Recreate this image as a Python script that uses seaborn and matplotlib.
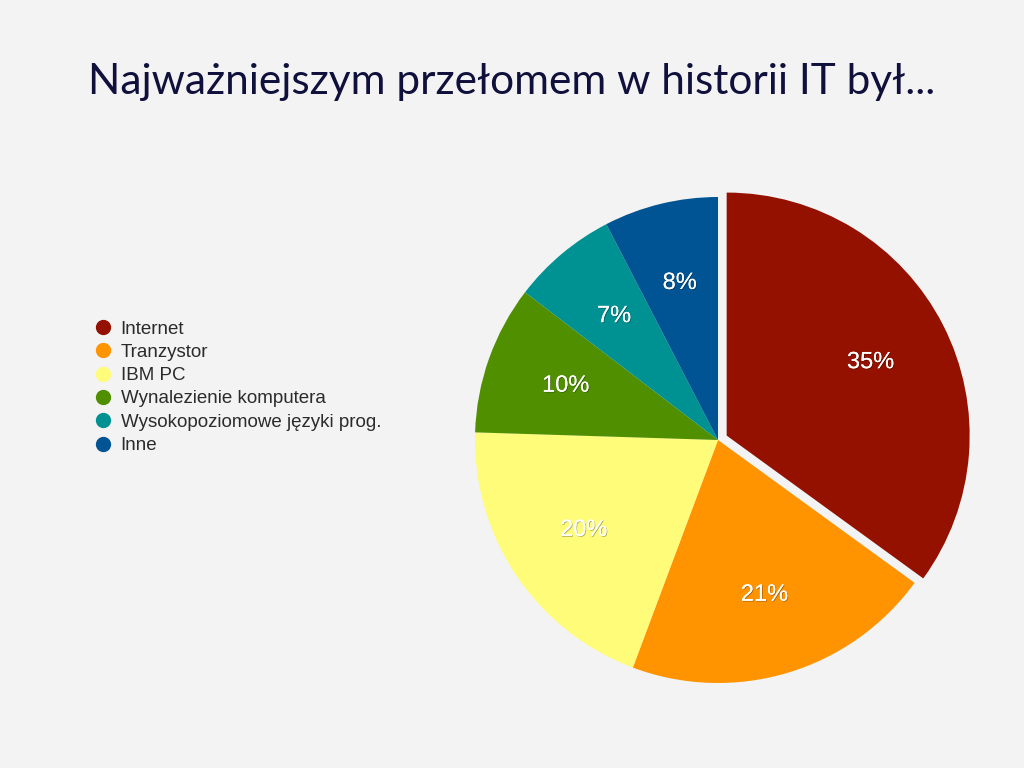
import matplotlib
matplotlib.use("Agg")
import matplotlib.pyplot as plt
import matplotlib.patheffects as pe
from matplotlib.lines import Line2D
import numpy as np
import seaborn as sns

categories = ["Internet", "Tranzystor", "IBM PC", "Wynalezienie komputera",
              "Wysokopoziomowe języki prog.", "Inne"]
values = [35.0, 20.7, 19.8, 9.9, 7.0, 7.6]
colors = ["#941100", "#ff9300", "#fffc79", "#4f8f00", "#009193", "#005493"]
title = "Najważniejszym przełomem w historii IT był..."

sns.set_theme(style="white")
bg = "#f3f3f3"
plt.rcParams["font.family"] = ["Liberation Sans", "DejaVu Sans"]

fig = plt.figure(figsize=(10.24, 7.68), dpi=100, facecolor=bg)
W, H = 1024, 768
cx, cy, r = 718, 440, 243
half = 1.1 * r
ax = fig.add_axes([(cx - half) / W, (H - cy - half) / H, 2 * half / W, 2 * half / H])
ax.set_facecolor(bg)
ax.axis("off")

explode = [0.04, 0, 0, 0, 0, 0]
wedges, _ = ax.pie(values, colors=colors, startangle=90, counterclock=False,
                   explode=explode, radius=1.0,
                   wedgeprops=dict(linewidth=0, edgecolor="none"))
ax.set_xlim(-1.1, 1.1)
ax.set_ylim(-1.1, 1.1)
ax.set_aspect("equal")

total = sum(values)
for w, v, ex in zip(wedges, values, explode):
    mid = np.deg2rad((w.theta1 + w.theta2) / 2)
    d = 0.665 + ex
    ax.text(d * np.cos(mid), d * np.sin(mid), f"{100 * v / total:.0f}%",
            ha="center", va="center", fontsize=17, color="white",
            family=["Liberation Sans", "DejaVu Sans"],
            path_effects=[pe.withSimplePatchShadow(offset=(0.6, -0.6), shadow_rgbFace="black", alpha=0.3),
                          pe.Normal()])

handles = [Line2D([], [], marker="o", linestyle="", markersize=10,
                  markerfacecolor=c, markeredgecolor=c) for c in colors]
leg = fig.legend(handles, categories, loc="upper left",
                 bbox_to_anchor=(84 / W, 1 - 311 / H), frameon=False,
                 fontsize=13.5, handlelength=1.0, handletextpad=0.45,
                 labelspacing=0.33, borderpad=0, labelcolor="#2b2b2b")

fig.text(0.5, 1 - 82 / H, title, ha="center", va="center",
         fontsize=30.5, color="#10103c", family=["Lato", "DejaVu Sans"])

fig.savefig("out.png", dpi=100, facecolor=bg)
